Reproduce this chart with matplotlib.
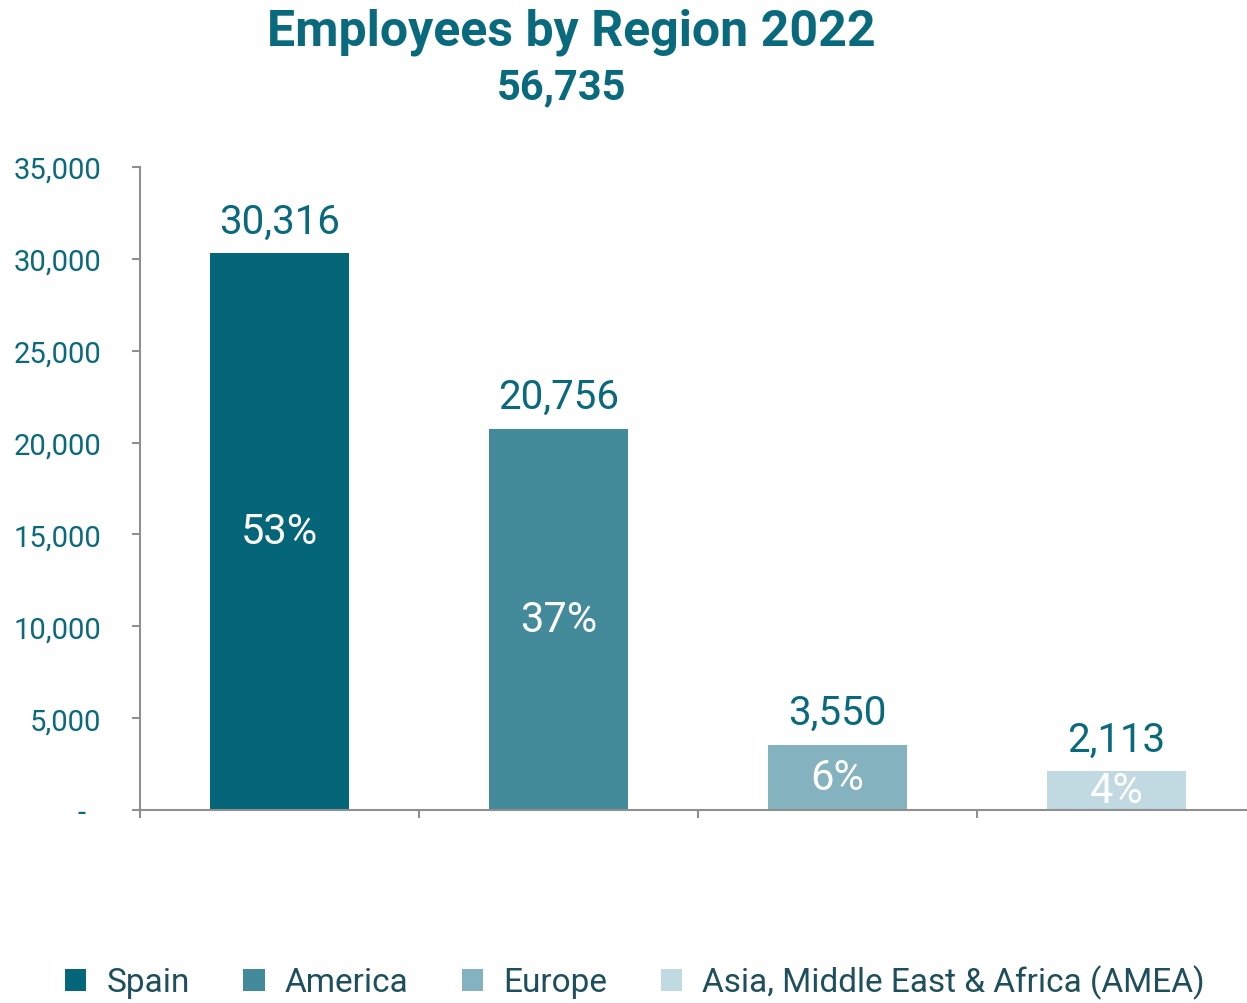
import matplotlib
matplotlib.use("Agg")
import matplotlib.pyplot as plt
from matplotlib.ticker import FuncFormatter, MultipleLocator

categories = ["Spain", "America", "Europe", "Asia, Middle East & Africa (AMEA)"]
employees = [30316, 20756, 3550, 2113]
shares = ["53%", "37%", "6%", "4%"]
total_label = "56,735"
title = "Employees by Region 2022"
colors = ["#05667a", "#438b9a", "#84b2be", "#c1d9e0"]

teal = "#0a6a7d"
plt.rcParams['font.family'] = ['Roboto', 'DejaVu Sans']

fig = plt.figure(figsize=(12.47, 10.04), dpi=100)
W, H = 1247, 1004
left, right, top, bottom = 140, 1256, 168, 811
ax = fig.add_axes([left / W, 1 - bottom / H, (right - left) / W, (bottom - top) / H])

x = list(range(len(categories)))
bars = ax.bar(x, employees, width=0.5, color=colors, label=categories, zorder=2)

ax.set_xlim(-0.5, len(categories) - 0.5)
ax.set_ylim(0, 35000)
ax.yaxis.set_major_locator(MultipleLocator(5000))
ax.yaxis.set_major_formatter(FuncFormatter(lambda v, p: "-  " if v == 0 else f"{int(v):,}"))
ax.set_xticks([i - 0.5 for i in range(len(categories) + 1)])
ax.set_xticklabels([])

for s in ["top", "right"]:
    ax.spines[s].set_visible(False)
for s in ["left", "bottom"]:
    ax.spines[s].set_color("#8f8f8f")
    ax.spines[s].set_linewidth(1.5)
ax.tick_params(axis="both", direction="out", length=6, width=1.5, color="#8f8f8f")
ax.tick_params(axis="y", labelsize=21, labelcolor=teal, pad=22)
ax.set_facecolor("none")

for b, v, s in zip(bars, employees, shares):
    cx = b.get_x() + b.get_width() / 2
    ax.annotate(f"{v:,}", (cx, v), xytext=(0, 9), textcoords="offset points",
                ha="center", va="bottom", fontsize=29, color=teal)
    ax.text(cx, v / 2, s, ha="center", va="center", fontsize=30, color="white")

fig.text(571 / W, 1 - 32 / H, title, ha="center", va="center", fontsize=36,
         fontweight="bold", color=teal)
fig.text(562 / W, 1 - 88 / H, total_label, ha="center", va="center", fontsize=30,
         fontweight="bold", color=teal)

leg = fig.legend(handles=bars, labels=categories, loc="lower center", ncol=4,
                 bbox_to_anchor=(0.509, -0.026), frameon=False,
                 prop={'family': ['Roboto', 'DejaVu Sans'], 'size': 24},
                 handlelength=0.65, handleheight=0.65, handletextpad=0.6, columnspacing=1.6,
                 labelcolor="#1d4f5c")

fig.savefig("out.png", dpi=100)
